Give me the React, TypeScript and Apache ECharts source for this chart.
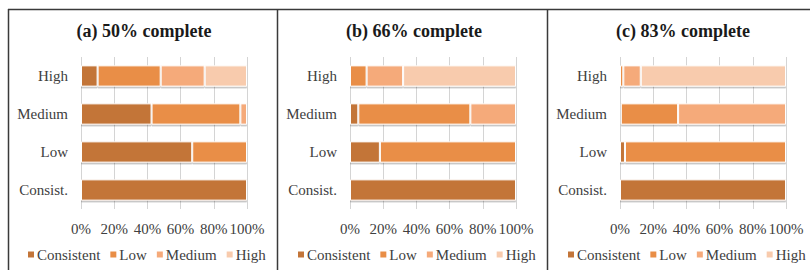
import React, { useEffect, useRef } from "react";
import * as echarts from "echarts";

const categories = ["Consist.", "Low", "Medium", "High"];
const seriesNames = ["Consistent", "Low", "Medium", "High"];
const panelTitles = ["(a) 50% complete", "(b) 66% complete", "(c) 83% complete"];
const tickValues = [0, 20, 40, 60, 80, 100];

// values per panel: [Consist., Low, Medium, High] rows for each series
const panelA_Consistent = [100, 67, 42.5, 10];
const panelA_Low = [0, 33, 53.5, 38];
const panelA_Medium = [0, 0, 4, 26.5];
const panelA_High = [0, 0, 0, 25.5];

const panelB_Consistent = [100, 18, 5, 0];
const panelB_Low = [0, 82, 67.5, 10];
const panelB_Medium = [0, 0, 27.5, 22];
const panelB_High = [0, 0, 0, 68];

const panelC_Consistent = [100, 3, 0.5, 0];
const panelC_Low = [0, 97, 34.5, 2];
const panelC_Medium = [0, 0, 65, 10.5];
const panelC_High = [0, 0, 0, 87.5];

const panels = [
  [panelA_Consistent, panelA_Low, panelA_Medium, panelA_High],
  [panelB_Consistent, panelB_Low, panelB_Medium, panelB_High],
  [panelC_Consistent, panelC_Low, panelC_Medium, panelC_High],
];

const colors = ["#C37538", "#E98E46", "#F5AA7A", "#F8CBAD"];

export default function App() {
  const ref = useRef<HTMLDivElement>(null);
  useEffect(() => {
    if (!ref.current) return;
    const chart = echarts.init(ref.current, null, { renderer: "svg" });
    const font = "serif";
    const gridLefts = [81, 350, 620];
    const gridWidth = 166;
    const titleCenters = [144, 414, 683];
    const legendLefts = [26, 296, 566];

    const grids = gridLefts.map((l) => ({ left: l, width: gridWidth, top: 57, height: 152 }));
    const xAxes = gridLefts.map((_, i) => ({
      type: "value",
      gridIndex: i,
      min: 0,
      max: 100,
      interval: 20,
      axisLine: { show: false },
      axisTick: { show: false },
      splitLine: { show: true, lineStyle: { color: "#D4D4D4", width: 1 } },
      axisLabel: {
        formatter: (v: number) => (tickValues.includes(v) ? v + "%" : ""),
        fontFamily: font,
        fontSize: 15,
        color: "#404040",
        margin: 12,
      },
    }));
    const yAxes = gridLefts.map((_, i) => ({
      type: "category",
      gridIndex: i,
      data: categories,
      axisLine: { show: false },
      axisTick: { show: false },
      axisLabel: { fontFamily: font, fontSize: 15, color: "#404040", margin: 13 },
    }));
    const series: any[] = [];
    panels.forEach((p, i) => {
      p.forEach((vals, s) => {
        series.push({
          type: "bar",
          name: seriesNames[s],
          xAxisIndex: i,
          yAxisIndex: i,
          stack: "p" + i,
          barWidth: "56%",
          data: vals,
          itemStyle: {
            color: colors[s],
            borderColor: "#ffffff",
            borderWidth: 1,
            shadowColor: "rgba(0,0,0,0.25)",
            shadowOffsetY: 1.5,
            shadowBlur: 1,
          },
        });
      });
    });

    chart.setOption({
      animation: false,
      textStyle: { fontFamily: font },
      title: panelTitles.map((t, i) => ({
        text: t,
        left: titleCenters[i],
        top: 22,
        textAlign: "center",
        padding: 0,
        textStyle: { fontFamily: font, fontSize: 18, fontWeight: "bold", color: "#1a1a1a" },
      })),
      grid: grids,
      xAxis: xAxes,
      yAxis: yAxes,
      legend: legendLefts.map((l) => ({
        data: seriesNames,
        left: l,
        top: 247,
        itemWidth: 8,
        itemHeight: 8,
        itemGap: 8,
        icon: "rect",
        padding: 0,
        textStyle: { fontFamily: font, fontSize: 15, color: "#404040", padding: [0, 0, 0, -3] },
        selectedMode: false,
      })),
      series,
      graphic: [
        { type: "line", shape: { x1: 8, y1: 9.5, x2: 810, y2: 9.5 }, style: { stroke: "#3a3a3a", lineWidth: 1.5 } },
        { type: "line", shape: { x1: 8.5, y1: 9, x2: 8.5, y2: 270 }, style: { stroke: "#3a3a3a", lineWidth: 1.5 } },
        { type: "line", shape: { x1: 277.5, y1: 9, x2: 277.5, y2: 270 }, style: { stroke: "#3a3a3a", lineWidth: 1.5 } },
        { type: "line", shape: { x1: 547.5, y1: 9, x2: 547.5, y2: 270 }, style: { stroke: "#3a3a3a", lineWidth: 1.5 } },
      ],
    });
    return () => chart.dispose();
  }, []);
  return (
    <div
      ref={ref}
      style={{ position: "absolute", left: 0, top: 0, width: 810, height: 270, background: "#ffffff" }}
    />
  );
}
